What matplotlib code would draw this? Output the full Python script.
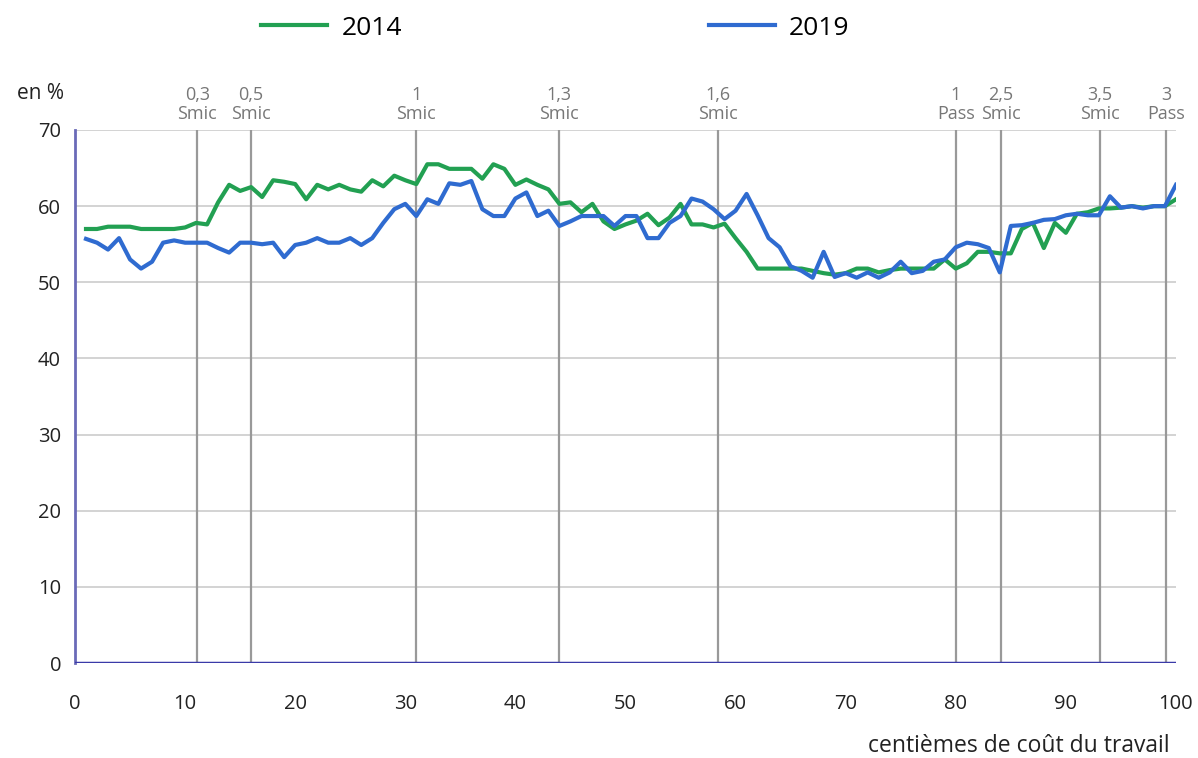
import matplotlib
matplotlib.use('Agg')
import matplotlib.pyplot as plt

plt.rcParams['font.family'] = ['Open Sans', 'DejaVu Sans']

# Data
centiles = list(range(1, 101))

taux_2014 = [
    57.0, 57.0, 57.3, 57.3, 57.3, 57.0, 57.0, 57.0, 57.0, 57.2,
    57.8, 57.6, 60.5, 62.8, 62.0, 62.5, 61.2, 63.4, 63.2, 62.9,
    60.9, 62.8, 62.2, 62.8, 62.2, 61.9, 63.4, 62.6, 64.0, 63.4,
    62.9, 65.5, 65.5, 64.9, 64.9, 64.9, 63.6, 65.5, 64.9, 62.8,
    63.5, 62.8, 62.2, 60.3, 60.5, 59.2, 60.3, 58.0, 57.0, 57.6,
    58.1, 59.0, 57.5, 58.5, 60.3, 57.6, 57.6, 57.2, 57.7, 55.8,
    54.0, 51.8, 51.8, 51.8, 51.8, 51.8, 51.5, 51.2, 51.0, 51.2,
    51.8, 51.8, 51.3, 51.6, 51.8, 51.8, 51.8, 51.8, 53.0, 51.8,
    52.5, 54.0, 54.0, 53.8, 53.8, 57.0, 57.8, 54.5, 57.8, 56.5,
    59.0, 59.2, 59.7, 59.7, 59.8, 60.0, 59.8, 60.0, 60.0, 60.9,
]

taux_2019 = [
    55.7, 55.2, 54.3, 55.8, 53.0, 51.8, 52.7, 55.2, 55.5, 55.2,
    55.2, 55.2, 54.5, 53.9, 55.2, 55.2, 55.0, 55.2, 53.3, 54.9,
    55.2, 55.8, 55.2, 55.2, 55.8, 54.9, 55.8, 57.8, 59.6, 60.3,
    58.7, 60.9, 60.3, 63.0, 62.8, 63.3, 59.6, 58.7, 58.7, 61.0,
    61.8, 58.7, 59.4, 57.4, 58.0, 58.7, 58.7, 58.7, 57.4, 58.7,
    58.7, 55.8, 55.8, 57.8, 58.7, 61.0, 60.6, 59.6, 58.3, 59.4,
    61.6, 58.8, 55.8, 54.6, 52.1, 51.5, 50.6, 54.0, 50.7, 51.2,
    50.6, 51.3, 50.6, 51.3, 52.7, 51.2, 51.5, 52.7, 53.0, 54.6,
    55.2, 55.0, 54.5, 51.3, 57.4, 57.5, 57.8, 58.2, 58.3, 58.8,
    59.0, 58.8, 58.8, 61.3, 59.8, 60.0, 59.7, 60.0, 60.0, 62.8,
]

# Thresholds (position in centiles) and their labels
seuils = [11.1, 16.0, 31.0, 44.0, 58.4, 80.0, 84.1, 93.1, 99.1]
seuils_labels = ['0,3\nSmic', '0,5\nSmic', '1\nSmic', '1,3\nSmic', '1,6\nSmic',
                 '1\nPass', '2,5\nSmic', '3,5\nSmic', '3\nPass']

GREEN = '#22a052'
BLUE = '#2f6bd0'

fig = plt.figure(figsize=(11.98, 7.58), dpi=100)
ax = fig.add_axes([0.0626, 0.1253, 0.9190, 0.7032])

# Horizontal grid
ax.set_yticks(range(0, 71, 10))
ax.grid(axis='y', color='#cccccc', linewidth=1.2)
ax.set_axisbelow(True)

# Vertical threshold lines
for s in seuils:
    ax.axvline(s, color='#999999', linewidth=1.6, zorder=1)

ax.plot(centiles, taux_2014, color=GREEN, linewidth=3, label='2014', zorder=3)
ax.plot(centiles, taux_2019, color=BLUE, linewidth=3, label='2019', zorder=3)

ax.axhline(0, color='#3a3aa8', linewidth=2.5, zorder=4)

ax.set_xlim(0, 100)
ax.set_ylim(0, 70)
ax.set_xticks(range(0, 101, 10))

for side in ['top', 'right']:
    ax.spines[side].set_visible(False)
ax.spines['left'].set_color('#6a6ab8')
ax.spines['left'].set_linewidth(2)
ax.spines['bottom'].set_visible(False)

ax.tick_params(axis='both', length=0, labelsize=14.5, colors='#222222')
ax.tick_params(axis='x', pad=22)
ax.tick_params(axis='y', pad=10)

# Threshold labels above the plot
for s, lab in zip(seuils, seuils_labels):
    ax.text(s, 70.9, lab, ha='center', va='bottom', fontsize=13,
            color='#777777', linespacing=1.05)

fig.text(0.034, 0.877, 'en %', ha='center', va='center', fontsize=15, color='#222222')
fig.text(0.976, 0.016, 'centièmes de coût du travail', ha='right', va='center',
         fontsize=16.5, color='#222222')

fig.legend(loc='center', bbox_to_anchor=(0.4637, 0.963), ncol=2, frameon=False,
           fontsize=19, handlelength=2.5, columnspacing=11.6, handletextpad=0.55)

plt.savefig('out.png', dpi=100)
